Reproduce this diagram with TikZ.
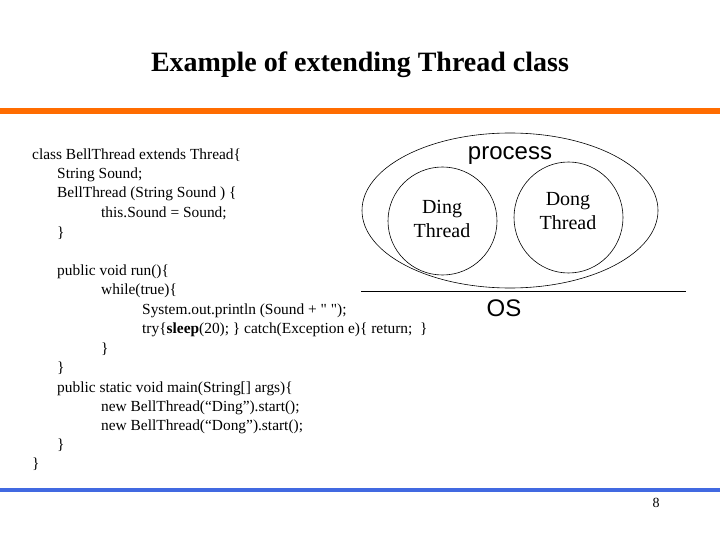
\documentclass[tikz,border=0pt]{standalone}
\usepackage{fontspec}
\setmainfont{Liberation Serif}
\newfontfamily\arialf{Liberation Sans}
\begin{document}
\begin{tikzpicture}[x=1pt,y=-1pt,
  code/.style={anchor=base west,inner sep=0pt,font=\fontsize{15.4}{17}\selectfont},
  lbl/.style={align=center,font=\fontsize{20}{24}\selectfont,inner sep=0pt},
  sans/.style={font=\arialf\fontsize{24}{26}\selectfont,inner sep=0pt}]
\useasboundingbox (0,0) rectangle (720,540);
\node[font=\bfseries\fontsize{28}{30}\selectfont] (title) at (360,65) {Example of extending Thread class};
\fill[orange!85!red] (0,108) rectangle (720,114);
\fill[color={rgb,255:red,65;green,105;blue,225}] (0,488) rectangle (720,492);
\node[font=\fontsize{14}{15}\selectfont] (pg) at (656,503) {8};
% code
\node[code] (c1) at (32,160) {class BellThread extends Thread\{};
\node[code] (c2) at (57,179) {String Sound;};
\node[code] (c3) at (57,198) {BellThread (String Sound ) \{};
\node[code] (c4) at (101,218) {this.Sound = Sound;};
\node[code] (c5) at (57,237) {\}};
\node[code] (c6) at (57,275) {public void run()\{};
\node[code] (c7) at (101,294) {while(true)\{};
\node[code] (c8) at (142,314) {System.out.println (Sound + \textquotedbl\ \textquotedbl);};
\node[code] (c9) at (142,333) {try\{\textbf{sleep}(20); \} catch(Exception e)\{ return;~ \}};
\node[code] (c10) at (101,353) {\}};
\node[code] (c11) at (57,372) {\}};
\node[code] (c12) at (57,392) {public static void main(String[] args)\{};
\node[code] (c13) at (101,411) {new BellThread(“Ding”).start();};
\node[code] (c14) at (101,430) {new BellThread(“Dong”).start();};
\node[code] (c15) at (57,449) {\}};
\node[code] (c16) at (32,468) {\}};
% diagram
\draw[line width=0.6pt] (510,210.5) ellipse [x radius=148, y radius=77.5];
\draw[line width=0.6pt] (442.5,221) ellipse [x radius=54.5, y radius=54];
\draw[line width=0.6pt] (568.5,217.5) ellipse [x radius=54.5, y radius=55.5];
\node[sans] (proc) at (510,156) {process};
\node[lbl] (ding) at (442,219) {Ding\\Thread};
\node[lbl] (dong) at (568,211) {Dong\\Thread};
\coordinate (osl) at (361,291);
\coordinate (osr) at (686,291);
\draw[line width=0.6pt] (osl) -- (osr);
\node[sans] (os) at (504,308) {OS};
\end{tikzpicture}
\end{document}
